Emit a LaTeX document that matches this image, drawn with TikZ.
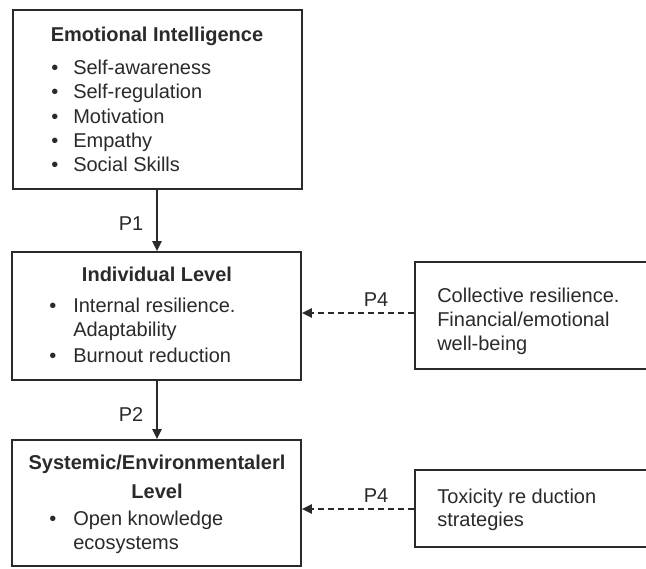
\documentclass[tikz,border=0pt]{standalone}
\usepackage{fontspec}
\setmainfont{Liberation Sans}
\usetikzlibrary{fit,arrows.meta}
\definecolor{ink}{HTML}{2A2A2A}
\tikzset{
  boxnode/.style={draw=ink, line width=1.4pt, inner sep=0pt, fill=white},
  ttl/.style={font=\fontsize{15}{18}\selectfont\bfseries, text=ink, inner sep=0pt},
  txt/.style={font=\fontsize{15}{18}\selectfont, text=ink, inner sep=0pt, anchor=mid west},
  bul/.style={font=\fontsize{15}{18}\selectfont, text=ink, inner sep=0pt, anchor=mid},
  lbl/.style={font=\fontsize{15}{18}\selectfont, text=ink, inner sep=0pt},
  solidarr/.style={draw=ink, line width=1pt, -{Triangle[length=7.5pt,width=7pt]}},
  dasharr/.style={draw=ink, line width=1pt, dash pattern=on 4.5pt off 3pt, -{Triangle[length=7.5pt,width=7pt]}}
}
\begin{document}
\begin{tikzpicture}[x=0.75pt,y=-0.75pt]
\clip (0,0) rectangle (646,568);
\fill[white] (0,0) rectangle (646,568);
% boxes
\node[boxnode, fit={(13,10) (302,189)}] (ei) {};
\node[boxnode, fit={(12,252) (301,380)}] (ind) {};
\node[boxnode, fit={(12,440) (301,566)}] (sys) {};
\node[boxnode, fit={(415,262) (680,369)}] (col) {};
\node[boxnode, fit={(415,470) (680,547)}] (tox) {};
% box 1 text
\node[ttl] (eit) at (157,36) {Emotional Intelligence};
\node[bul] (eb1) at (55,71) {•};  \node[txt] (e1) at (73,71) {Self-awareness};
\node[bul] (eb2) at (55,95) {•};  \node[txt] (e2) at (73,95) {Self-regulation};
\node[bul] (eb3) at (55,120) {•}; \node[txt] (e3) at (73,120) {Motivation};
\node[bul] (eb4) at (55,144) {•}; \node[txt] (e4) at (73,144) {Empathy};
\node[bul] (eb5) at (55,168) {•}; \node[txt] (e5) at (73,168) {Social Skills};
% box 2 text
\node[ttl] (indt) at (157,274) {Individual Level};
\node[bul] (ib1) at (53,309) {•}; \node[txt] (i1) at (73,309) {Internal resilience.};
\node[txt] (i2) at (73,333) {Adaptability};
\node[bul] (ib2) at (53,359) {•}; \node[txt] (i3) at (73,359) {Burnout reduction};
% box 3 text
\node[ttl] (syst1) at (157,464) {Systemic/Environmentalerl};
\node[ttl] (syst2) at (157,491) {Level};
\node[bul] (sb1) at (53,522) {•}; \node[txt] (s1) at (73,522) {Open knowledge};
\node[txt] (s2) at (73,546) {ecosystems};
% right boxes text
\node[txt] (c1) at (437,299) {Collective resilience.};
\node[txt] (c2) at (437,323) {Financial/emotional};
\node[txt] (c3) at (437,347) {well-being};
\node[txt] (t1) at (437,500) {Toxicity re duction};
\node[txt] (t2) at (437,523) {strategies};
% connectors
\draw[solidarr] (ei.south -| 157,0) -- (ind.north -| 157,0);
\draw[solidarr] (ind.south -| 157,0) -- (sys.north -| 157,0);
\draw[dasharr] (col.west |- 0,313) -- (ind.east |- 0,313);
\draw[dasharr] (tox.west |- 0,509) -- (sys.east |- 0,509);
% labels
\node[lbl] (p1) at (131,224) {P1};
\node[lbl] (p2) at (131,415) {P2};
\node[lbl] (p4a) at (376,300) {P4};
\node[lbl] (p4b) at (376,496) {P4};
\end{tikzpicture}
\end{document}
